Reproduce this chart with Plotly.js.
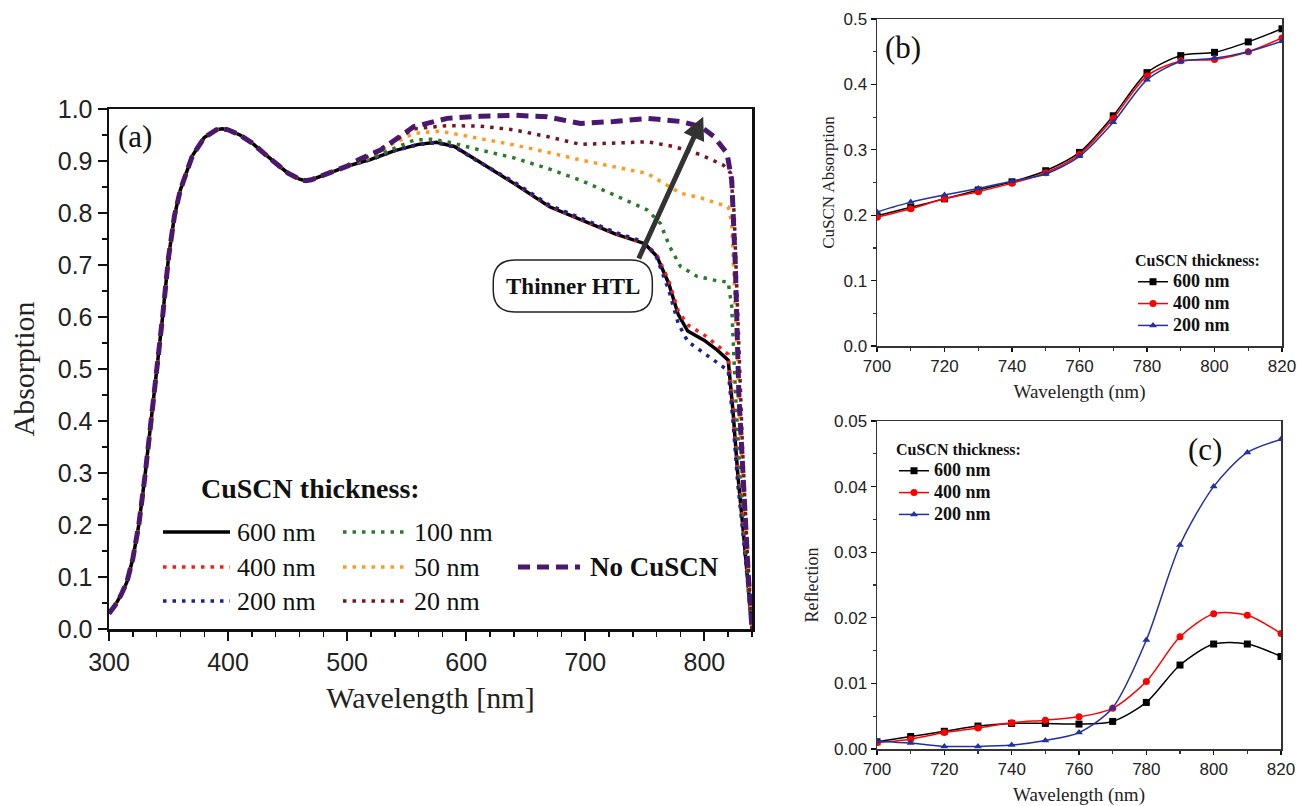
<!DOCTYPE html>
<html>
<head>
<meta charset="utf-8">
<script src="https://cdn.plot.ly/plotly-3.0.1.min.js"></script>
<style>html,body{margin:0;padding:0;background:#fff}#chart{width:1297px;height:806px}</style>
</head>
<body>
<div id="chart"></div>
<script>
// ---------- Panel (a): absorption of full device ----------
const wlShared  = [300,305,310,315,320,325,330,335,340,345,350,355,360,365,370,380,390,395,400,410,420,430,440,450,460,465,470,480,490,500];
const absShared = [0.03,0.045,0.065,0.09,0.135,0.20,0.29,0.39,0.50,0.60,0.715,0.795,0.845,0.88,0.91,0.945,0.96,0.962,0.96,0.95,0.935,0.915,0.895,0.877,0.865,0.862,0.864,0.872,0.881,0.89];

const wlThick = [520,540,560,575,590,610,640,670,700,725,750,760,770,778,786,800,810,820,824,828,833,838,840];
const abs600  = [0.903,0.92,0.932,0.936,0.928,0.90,0.857,0.812,0.783,0.76,0.741,0.717,0.665,0.605,0.573,0.555,0.538,0.517,0.42,0.30,0.18,0.05,0.0];
const abs400  = [0.903,0.92,0.932,0.936,0.928,0.90,0.858,0.813,0.784,0.761,0.742,0.72,0.67,0.612,0.585,0.565,0.547,0.528,0.43,0.31,0.19,0.06,0.0];
const abs200  = [0.903,0.92,0.932,0.935,0.927,0.899,0.86,0.815,0.786,0.763,0.744,0.714,0.652,0.588,0.553,0.53,0.515,0.497,0.40,0.28,0.17,0.05,0.0];

const wl100  = [520,540,556,570,584,612,640,668,696,724,752,763,771,780,794,810,820,823,826,830,835,840];
const abs100 = [0.905,0.925,0.94,0.942,0.937,0.921,0.906,0.886,0.863,0.835,0.806,0.78,0.735,0.697,0.678,0.67,0.667,0.62,0.46,0.30,0.14,0.0];

const wl50  = [520,540,556,575,584,612,640,668,696,724,752,766,780,797,810,820,823,826,830,835,840];
const abs50 = [0.91,0.935,0.953,0.957,0.955,0.943,0.931,0.917,0.902,0.889,0.876,0.857,0.838,0.829,0.82,0.812,0.78,0.60,0.40,0.18,0.0];

const wl20  = [520,540,556,584,612,640,668,696,724,752,774,797,816,822,825,828,832,836,840];
const abs20 = [0.912,0.94,0.962,0.968,0.967,0.96,0.947,0.932,0.934,0.937,0.928,0.912,0.892,0.877,0.80,0.60,0.35,0.15,0.0];

const wlNo  = [510,528,556,584,612,640,668,696,724,752,780,797,808,819,823,826,829,833,837,840];
const absNo = [0.903,0.921,0.966,0.982,0.986,0.988,0.985,0.972,0.976,0.982,0.976,0.966,0.947,0.915,0.863,0.70,0.45,0.25,0.10,0.0];

const seriesNamesA = ['600 nm','400 nm','200 nm','100 nm','50 nm','20 nm','No CuSCN'];

// ---------- Panel (b): CuSCN absorption ----------
const wlB = [700,710,720,730,740,750,760,770,780,790,800,810,820];
const cuAbs600 = [0.199,0.212,0.225,0.2385,0.251,0.268,0.296,0.352,0.418,0.444,0.449,0.465,0.485];
const cuAbs400 = [0.197,0.210,0.225,0.236,0.249,0.265,0.293,0.348,0.413,0.436,0.438,0.450,0.471];
const cuAbs200 = [0.205,0.220,0.231,0.241,0.252,0.263,0.290,0.342,0.407,0.435,0.440,0.450,0.466];

// ---------- Panel (c): reflection ----------
const wlC = [700,710,720,730,740,750,760,770,780,790,800,810,820];
const refl600 = [0.0011,0.0019,0.0027,0.0035,0.0039,0.0039,0.0038,0.0042,0.0071,0.0128,0.0160,0.0160,0.0141];
const refl400 = [0.0010,0.0015,0.0025,0.0032,0.0040,0.0044,0.0049,0.0062,0.0103,0.0171,0.0206,0.0204,0.0176];
const refl200 = [0.0012,0.0009,0.0004,0.0004,0.0006,0.0013,0.0025,0.0063,0.0166,0.0311,0.0400,0.0452,0.0472];

const thicknessNames = ['600 nm','400 nm','200 nm'];

// ---------- styles ----------
const W = 1297, H = 806;
const px = x => x / W, py = y => 1 - y / H;
const serif = 'Liberation Serif', sans = 'Liberation Sans';

const stylesA = [
  {color:'#000000', width:3.5, dash:'solid'},
  {color:'#ff1a1a', width:3.5, dash:'3.5px,6px'},
  {color:'#1c2290', width:3.5, dash:'3.5px,6px'},
  {color:'#2a7a2a', width:3.5, dash:'3.5px,6px'},
  {color:'#ff9a1e', width:3.5, dash:'3.5px,6px'},
  {color:'#7a1424', width:3.5, dash:'3.5px,6px'},
  {color:'#4b1870', width:5,   dash:'12px,7px'}
];
const xsA = [
  wlShared.concat(wlThick), wlShared.concat(wlThick), wlShared.concat(wlThick),
  wlShared.concat(wl100), wlShared.concat(wl50), wlShared.concat(wl20), wlShared.concat(wlNo)
];
const ysA = [
  absShared.concat(abs600), absShared.concat(abs400), absShared.concat(abs200),
  absShared.concat(abs100), absShared.concat(abs50), absShared.concat(abs20), absShared.concat(absNo)
];

const traces = [];
seriesNamesA.forEach((n, i) => {
  traces.push({x: xsA[i], y: ysA[i], name: n, type: 'scatter', mode: 'lines',
    line: Object.assign({}, stylesA[i]), xaxis: 'x', yaxis: 'y', showlegend: false});
});

const stylesBC = [
  {color:'#000000', symbol:'square'},
  {color:'#ff0000', symbol:'circle'},
  {color:'#23309e', symbol:'triangle-up'}
];
const legendLabel = n => '<span style="font-size:18px">' + n + '</span>';
const ysB = [cuAbs600, cuAbs400, cuAbs200];
const ysC = [refl600, refl400, refl200];
thicknessNames.forEach((n, i) => {
  traces.push({x: wlB, y: ysB[i], name: legendLabel(n), type: 'scatter', mode: 'lines+markers',
    line: {color: stylesBC[i].color, width: 1.5, shape: 'spline', smoothing: 0.8},
    marker: {color: stylesBC[i].color, symbol: stylesBC[i].symbol, size: 7},
    xaxis: 'x2', yaxis: 'y2', legend: 'legend2'});
});
thicknessNames.forEach((n, i) => {
  traces.push({x: wlC, y: ysC[i], name: legendLabel(n), type: 'scatter', mode: 'lines+markers',
    line: {color: stylesBC[i].color, width: 1.5, shape: 'spline', smoothing: 0.8},
    marker: {color: stylesBC[i].color, symbol: stylesBC[i].symbol, size: 7},
    xaxis: 'x3', yaxis: 'y3', legend: 'legend3'});
});

// ---------- manual legend for panel (a) ----------
const legRows = [532, 567, 601];
const legCols = [{x0:163, x1:230, tx:235}, {x0:343, x1:407, tx:412}];
const shapes = [];
const annotations = [];
for (let i = 0; i < 6; i++) {
  const c = legCols[Math.floor(i / 3)], r = legRows[i % 3];
  shapes.push({type:'line', xref:'paper', yref:'paper', x0:px(c.x0), x1:px(c.x1), y0:py(r), y1:py(r),
    line: Object.assign({}, stylesA[i])});
  annotations.push({xref:'paper', yref:'paper', x:px(c.tx), y:py(r), xanchor:'left', yanchor:'middle',
    text: seriesNamesA[i], showarrow:false, font:{family:serif, size:26, color:'#111'}});
}
shapes.push({type:'line', xref:'paper', yref:'paper', x0:px(518), x1:px(580), y0:py(567), y1:py(567),
  line: Object.assign({}, stylesA[6])});
annotations.push({xref:'paper', yref:'paper', x:px(588), y:py(567), xanchor:'left', yanchor:'middle',
  text: seriesNamesA[6], showarrow:false, font:{family:serif, size:27, weight:'bold', color:'#111'}});
annotations.push({xref:'paper', yref:'paper', x:px(310), y:py(488), xanchor:'center', yanchor:'middle',
  text:'CuSCN thickness:', showarrow:false, font:{family:serif, size:28, weight:'bold', color:'#111'}});

// Thinner HTL box + arrow (panel a, data coords)
const bx0 = 622.7, bx1 = 756.3, by0 = 0.6096, by1 = 0.7096, rx = 18.5, ry = 0.0423;
shapes.push({type:'path', xref:'x', yref:'y', line:{color:'#222', width:1.5}, fillcolor:'rgba(255,255,255,1)',
  path:`M${bx0+rx},${by1} L${bx1-rx},${by1} Q${bx1},${by1} ${bx1},${by1-ry} L${bx1},${by0+ry} Q${bx1},${by0} ${bx1-rx},${by0} L${bx0+rx},${by0} Q${bx0},${by0} ${bx0},${by0+ry} L${bx0},${by1-ry} Q${bx0},${by1} ${bx0+rx},${by1} Z`});
annotations.push({xref:'x', yref:'y', x:(bx0+bx1)/2, y:(by0+by1)/2, xanchor:'center', yanchor:'middle',
  text:'Thinner HTL', showarrow:false, font:{family:serif, size:23, weight:'bold', color:'#111'}});
annotations.push({xref:'x', yref:'y', axref:'x', ayref:'y', x:799, y:0.985, ax:744.3, ay:0.7096, text:'',
  showarrow:true, arrowhead:2, arrowsize:0.9, arrowwidth:5, arrowcolor:'#333'});

// Panel labels
const panelLabel = (t, x, y) => ({xref:'paper', yref:'paper', x:px(x), y:py(y), xanchor:'center', yanchor:'middle',
  text:t, showarrow:false, font:{family:serif, size:31, color:'#111'}});
annotations.push(panelLabel('(a)', 135, 136));
annotations.push(panelLabel('(b)', 903, 47));
annotations.push(panelLabel('(c)', 1205, 449));

const axBase = {showgrid:false, zeroline:false, showline:true, mirror:true, ticks:'outside', color:'#111'};

const layout = {
  width: W, height: H, margin: {l:0, r:0, t:0, b:0}, paper_bgcolor:'#fff', plot_bgcolor:'#fff',
  showlegend: true,
  xaxis: Object.assign({}, axBase, {domain:[px(109), px(752)], range:[300,840], anchor:'y', dtick:100, tick0:300,
    linewidth:2.5, linecolor:'#111', ticklen:9, tickwidth:2, tickfont:{family:sans, size:25, color:'#222'},
    minor:{dtick:20, ticks:'outside', ticklen:5, tickwidth:1.5, tickcolor:'#111'},
    title:{text:'Wavelength [nm]', font:{family:serif, size:30, color:'#222'}, standoff:13}}),
  yaxis: Object.assign({}, axBase, {domain:[py(629), py(109)], range:[0,1], anchor:'x', dtick:0.1, tickformat:'.1f',
    linewidth:2.5, linecolor:'#111', ticklen:9, tickwidth:2, tickfont:{family:sans, size:25, color:'#222'},
    minor:{dtick:0.05, ticks:'outside', ticklen:5, tickwidth:1.5, tickcolor:'#111'},
    title:{text:'Absorption', font:{family:serif, size:30, color:'#222'}, standoff:14}}),
  xaxis2: Object.assign({}, axBase, {domain:[px(877), px(1282)], range:[700,820], anchor:'y2', dtick:20,
    linewidth:1.5, linecolor:'#333', ticklen:4, tickwidth:1.2, tickfont:{family:sans, size:17, color:'#222'},
    minor:{dtick:10, ticks:'outside', ticklen:3, tickcolor:'#333'},
    title:{text:'Wavelength (nm)', font:{family:serif, size:19, color:'#222'}, standoff:10}}),
  yaxis2: Object.assign({}, axBase, {domain:[py(346), py(19)], range:[0,0.5], anchor:'x2', dtick:0.1, tickformat:'.1f',
    linewidth:1.5, linecolor:'#333', ticklen:5, tickwidth:1.2, tickfont:{family:sans, size:17, color:'#222'},
    minor:{dtick:0.05, ticks:'outside', ticklen:3, tickcolor:'#333'},
    title:{text:'CuSCN Absorption', font:{family:serif, size:17, color:'#222'}, standoff:4}}),
  xaxis3: Object.assign({}, axBase, {domain:[px(877), px(1281)], range:[700,820], anchor:'y3', dtick:20,
    linewidth:1.5, linecolor:'#333', ticklen:4, tickwidth:1.2, tickfont:{family:sans, size:17, color:'#222'},
    minor:{dtick:10, ticks:'outside', ticklen:3, tickcolor:'#333'},
    title:{text:'Wavelength (nm)', font:{family:serif, size:19, color:'#222'}, standoff:10}}),
  yaxis3: Object.assign({}, axBase, {domain:[py(749), py(421)], range:[0,0.05], anchor:'x3', dtick:0.01, tickformat:'.2f',
    linewidth:1.5, linecolor:'#333', ticklen:5, tickwidth:1.2, tickfont:{family:sans, size:17, color:'#222'},
    minor:{dtick:0.005, ticks:'outside', ticklen:3, tickcolor:'#333'},
    title:{text:'Reflection', font:{family:serif, size:18, color:'#222'}, standoff:10}}),
  legend2: {x:px(1133), y:py(245), xanchor:'left', yanchor:'top', bgcolor:'rgba(0,0,0,0)', borderwidth:0,
    font:{family:serif, size:14.5, weight:'bold', color:'#111'}, itemwidth:30, tracegroupgap:0,
    title:{text:'CuSCN thickness:', font:{family:serif, size:16, weight:'bold', color:'#111'}}},
  legend3: {x:px(894), y:py(434), xanchor:'left', yanchor:'top', bgcolor:'rgba(0,0,0,0)', borderwidth:0,
    font:{family:serif, size:14.5, weight:'bold', color:'#111'}, itemwidth:30, tracegroupgap:0,
    title:{text:'CuSCN thickness:', font:{family:serif, size:16, weight:'bold', color:'#111'}}},
  shapes: shapes,
  annotations: annotations
};

Plotly.newPlot('chart', traces, layout, {staticPlot:true, displayModeBar:false});
</script>
</body>
</html>
